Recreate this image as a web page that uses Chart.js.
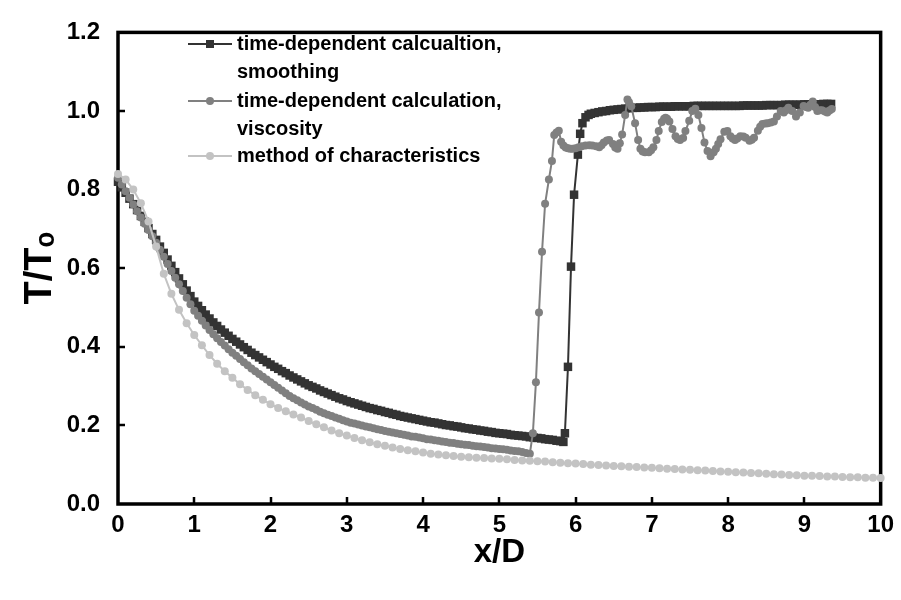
<!DOCTYPE html>
<html><head><meta charset="utf-8">
<script src="https://cdn.jsdelivr.net/npm/chart.js@4"></script>
<style>html,body{margin:0;padding:0;background:#fff}#wrap{width:901px;height:600px}</style>
</head><body><div id="wrap"><canvas id="c" width="901" height="600"></canvas></div>
<script>
// ---- axis ticks ----
const xTicks = [0,1,2,3,4,5,6,7,8,9,10];
const yTicks = [0,0.2,0.4,0.6,0.8,1.0,1.2];
const xTitle = 'x/D';
const yTitle = 'T/T\u2092';
// ---- series names (legend lines) ----
const seriesNames = [
  ['time-dependent calcualtion,', 'smoothing'],
  ['time-dependent calculation,', 'viscosity'],
  ['method of characteristics']
];
// ---- series values: [x/D, T/To] ----
const smoothing = [
[0,.820],[.05,.806],[.1,.792],[.15,.777],[.2,.763],[.25,.748],[.3,.733],[.35,.718],[.4,.702],[.45,.687],
[.5,.672],[.55,.655],[.6,.639],[.65,.622],[.7,.606],[.75,.590],[.8,.574],[.85,.559],[.9,.543],[.95,.529],
[1,.515],[1.05,.504],[1.1,.493],[1.15,.482],[1.2,.472],[1.25,.462],[1.3,.453],[1.35,.444],[1.4,.436],[1.45,.428],
[1.5,.420],[1.55,.413],[1.6,.406],[1.65,.399],[1.7,.392],[1.75,.385],[1.8,.379],[1.85,.373],[1.9,.367],[1.95,.361],
[2,.355],[2.05,.349],[2.1,.344],[2.15,.338],[2.2,.333],[2.25,.327],[2.3,.322],[2.35,.317],[2.4,.312],[2.45,.307],
[2.5,.302],[2.55,.298],[2.6,.294],[2.65,.289],[2.7,.285],[2.75,.281],[2.8,.277],[2.85,.273],[2.9,.269],[2.95,.266],
[3,.262],[3.05,.259],[3.1,.256],[3.15,.253],[3.2,.250],[3.25,.247],[3.3,.244],[3.35,.242],[3.4,.239],[3.45,.237],
[3.5,.234],[3.55,.232],[3.6,.229],[3.65,.227],[3.7,.224],[3.75,.222],[3.8,.220],[3.85,.218],[3.9,.216],[3.95,.214],
[4,.212],[4.05,.210],[4.1,.208],[4.15,.207],[4.2,.205],[4.25,.203],[4.3,.201],[4.35,.200],[4.4,.198],[4.45,.197],
[4.5,.195],[4.55,.193],[4.6,.192],[4.65,.190],[4.7,.189],[4.75,.187],[4.8,.186],[4.85,.184],[4.9,.183],[4.95,.181],
[5,.180],[5.05,.179],[5.1,.178],[5.15,.176],[5.2,.175],[5.25,.174],[5.3,.173],[5.35,.172],[5.4,.170],[5.45,.169],
[5.5,.168],[5.55,.167],[5.6,.165],[5.65,.164],[5.7,.163],[5.75,.161],[5.8,.160],[5.84,.158],
[5.86,.180],[5.90,.349],[5.94,.604],[5.98,.787],[6.03,.889],[6.06,.942],[6.09,.969],[6.13,.984],[6.17,.990],[6.2,.993],
[6.25,.995],[6.3,.997],[6.35,.999],[6.4,1.000],[6.45,1.002],[6.5,1.003],[6.55,1.004],[6.6,1.005],[6.65,1.006],[6.7,1.007],
[6.75,1.008],[6.8,1.008],[6.85,1.009],[6.9,1.009],[6.95,1.010],[7,1.010],[7.05,1.010],[7.1,1.011],[7.15,1.011],[7.2,1.011],
[7.25,1.011],[7.3,1.012],[7.35,1.012],[7.4,1.012],[7.45,1.012],[7.5,1.012],[7.55,1.013],[7.6,1.013],[7.65,1.013],[7.7,1.013],
[7.75,1.013],[7.8,1.013],[7.85,1.013],[7.9,1.013],[7.95,1.013],[8,1.013],[8.05,1.013],[8.1,1.013],[8.15,1.013],[8.2,1.014],
[8.25,1.014],[8.3,1.014],[8.35,1.014],[8.4,1.014],[8.45,1.014],[8.5,1.015],[8.55,1.015],[8.6,1.015],[8.65,1.015],[8.7,1.015],
[8.75,1.016],[8.8,1.016],[8.85,1.016],[8.9,1.016],[8.95,1.016],[9,1.017],[9.05,1.017],[9.1,1.017],[9.15,1.017],[9.2,1.017],
[9.25,1.018],[9.3,1.018],[9.35,1.018]
];
const viscosity = [
[0,.830],[.05,.813],[.1,.796],[.15,.779],[.2,.762],[.25,.745],[.3,.729],[.35,.713],[.4,.697],[.45,.681],
[.5,.665],[.55,.647],[.6,.629],[.65,.611],[.7,.593],[.75,.576],[.8,.559],[.85,.542],[.9,.525],[.95,.508],
[1,.492],[1.05,.479],[1.1,.466],[1.15,.454],[1.2,.443],[1.25,.432],[1.3,.422],[1.35,.412],[1.4,.403],[1.45,.394],
[1.5,.385],[1.55,.377],[1.6,.369],[1.65,.361],[1.7,.353],[1.75,.345],[1.8,.338],[1.85,.331],[1.9,.324],[1.95,.317],
[2,.310],[2.05,.303],[2.1,.296],[2.15,.289],[2.2,.282],[2.25,.275],[2.3,.269],[2.35,.264],[2.4,.258],[2.45,.253],
[2.5,.248],[2.55,.244],[2.6,.240],[2.65,.235],[2.7,.231],[2.75,.227],[2.8,.224],[2.85,.220],[2.9,.217],[2.95,.213],
[3,.210],[3.05,.207],[3.1,.205],[3.15,.202],[3.2,.200],[3.25,.197],[3.3,.195],[3.35,.193],[3.4,.190],[3.45,.188],
[3.5,.186],[3.55,.184],[3.6,.182],[3.65,.180],[3.7,.178],[3.75,.176],[3.8,.174],[3.85,.172],[3.9,.171],[3.95,.169],
[4,.167],[4.05,.165],[4.1,.164],[4.15,.162],[4.2,.161],[4.25,.159],[4.3,.158],[4.35,.156],[4.4,.155],[4.45,.153],
[4.5,.152],[4.55,.151],[4.6,.150],[4.65,.148],[4.7,.147],[4.75,.146],[4.8,.145],[4.85,.144],[4.9,.142],[4.95,.141],
[5,.140],[5.05,.139],[5.1,.138],[5.15,.136],[5.2,.135],[5.25,.134],[5.3,.132],[5.35,.130],[5.4,.128],
[5.44,.180],[5.48,.310],[5.52,.487],[5.56,.642],[5.6,.764],[5.65,.826],[5.69,.873],[5.72,.939],[5.75,.945],[5.78,.950],
[5.81,.922],[5.84,.912],[5.87,.907],[5.9,.905],[5.93,.904],[5.96,.904],[6,.905],[6.04,.908],[6.08,.910],[6.13,.912],
[6.18,.913],[6.22,.912],[6.27,.910],[6.31,.908],[6.34,.913],[6.37,.920],[6.41,.925],[6.44,.926],[6.49,.916],[6.52,.907],
[6.55,.904],[6.58,.918],[6.61,.940],[6.65,.990],[6.68,1.029],[6.7,1.022],[6.73,1.012],[6.78,.969],[6.82,.926],[6.85,.904],
[6.88,.897],[6.91,.895],[6.96,.895],[6.99,.900],[7.02,.908],[7.06,.926],[7.09,.949],[7.13,.972],[7.16,.980],[7.18,.983],
[7.2,.980],[7.23,.973],[7.27,.954],[7.31,.936],[7.34,.929],[7.37,.926],[7.41,.931],[7.44,.949],[7.49,.975],[7.53,1.000],
[7.57,1.006],[7.61,.990],[7.65,.957],[7.69,.920],[7.73,.898],[7.77,.885],[7.81,.895],[7.84,.904],[7.87,.916],[7.9,.928],
[7.95,.947],[7.99,.949],[8.03,.936],[8.06,.930],[8.09,.926],[8.12,.930],[8.16,.936],[8.2,.935],[8.23,.932],[8.28,.924],
[8.31,.927],[8.34,.932],[8.39,.950],[8.42,.960],[8.45,.967],[8.49,.968],[8.52,.969],[8.56,.971],[8.6,.973],[8.64,.986],
[8.69,1.000],[8.73,.996],[8.76,1.002],[8.79,1.008],[8.84,1.000],[8.89,.986],[8.94,.996],[8.99,1.013],[9.02,1.010],[9.05,1.008],
[9.08,1.016],[9.11,1.024],[9.14,1.010],[9.17,1.000],[9.2,1.002],[9.23,1.002],[9.27,.999],[9.3,.996],[9.33,1.001],[9.36,1.005]
];
const characteristics = [
[0,.840],[.1,.826],[.2,.800],[.3,.765],[.4,.719],[.5,.655],[.6,.586],[.7,.535],[.8,.494],[.9,.460],
[1,.430],[1.1,.404],[1.2,.379],[1.3,.357],[1.4,.338],[1.5,.321],[1.6,.305],[1.7,.290],[1.8,.277],[1.9,.265],
[2,.254],[2.1,.244],[2.2,.236],[2.3,.228],[2.4,.220],[2.5,.211],[2.6,.203],[2.7,.195],[2.8,.187],[2.9,.180],
[3,.174],[3.1,.168],[3.2,.162],[3.3,.157],[3.4,.152],[3.5,.148],[3.6,.144],[3.7,.140],[3.8,.137],[3.9,.134],
[4,.131],[4.1,.128],[4.2,.126],[4.3,.124],[4.4,.122],[4.5,.120],[4.6,.119],[4.7,.118],[4.8,.117],[4.9,.116],
[5,.115],[5.1,.114],[5.2,.112],[5.3,.111],[5.4,.110],[5.5,.109],[5.6,.108],[5.7,.106],[5.8,.105],[5.9,.104],
[6,.103],[6.1,.102],[6.2,.100],[6.3,.099],[6.4,.098],[6.5,.097],[6.6,.096],[6.7,.095],[6.8,.094],[6.9,.093],
[7,.092],[7.1,.091],[7.2,.090],[7.3,.089],[7.4,.088],[7.5,.087],[7.6,.086],[7.7,.085],[7.8,.084],[7.9,.083],
[8,.082],[8.1,.081],[8.2,.080],[8.3,.079],[8.4,.078],[8.5,.077],[8.6,.076],[8.7,.075],[8.8,.074],[8.9,.073],
[9,.072],[9.1,.072],[9.2,.071],[9.3,.070],[9.4,.070],[9.5,.069],[9.6,.068],[9.7,.068],[9.8,.067],[9.9,.067],[10,.066]
];

const COLORS = ['#333333', '#808080', '#c3c3c3'];
const FONT = '"Liberation Sans", Arial, Helvetica, sans-serif';
const toPts = arr => arr.map(p => ({x: p[0], y: p[1]}));

const framePlugin = {
  id: 'frame',
  beforeDatasetsDraw(chart) {
    const {ctx, chartArea: {left, right, top, bottom}, scales: {x, y}} = chart;
    ctx.save();
    ctx.strokeStyle = '#000';
    ctx.lineWidth = 2.5;
    ctx.beginPath();
    yTicks.forEach(v => {
      if (v > 0 && v < 1.2) { const py = Math.round(y.getPixelForValue(v)); ctx.moveTo(left, py); ctx.lineTo(left + 7, py); }
    });
    xTicks.forEach(v => {
      if (v > 0 && v < 10) { const px = Math.round(x.getPixelForValue(v)); ctx.moveTo(px, bottom); ctx.lineTo(px, bottom - 7); }
    });
    ctx.stroke();
    ctx.lineWidth = 3.5;
    ctx.strokeRect(left, top, right - left, bottom - top);
    ctx.restore();
  }
};

const legendPlugin = {
  id: 'innerLegend',
  afterDraw(chart) {
    const ctx = chart.ctx;
    const rows = [44, 101, 156];
    ctx.save();
    ctx.font = 'bold 20px ' + FONT;
    ctx.textBaseline = 'middle';
    ctx.textAlign = 'left';
    seriesNames.forEach((lines, i) => {
      const yy = rows[i];
      ctx.strokeStyle = COLORS[i];
      ctx.lineWidth = 2;
      ctx.beginPath(); ctx.moveTo(188, yy); ctx.lineTo(232, yy); ctx.stroke();
      ctx.fillStyle = COLORS[i];
      if (i === 0) { ctx.fillRect(206, yy - 4, 8, 8); }
      else { ctx.beginPath(); ctx.arc(210, yy, 4, 0, Math.PI * 2); ctx.fill(); }
      ctx.fillStyle = '#000';
      lines.forEach((t, k) => ctx.fillText(t, 237, yy + k * 28));
    });
    ctx.restore();
  }
};

new Chart(document.getElementById('c'), {
  type: 'line',
  data: {
    datasets: [
      { label: seriesNames[0].join(' '), data: toPts(smoothing), borderColor: COLORS[0], backgroundColor: COLORS[0],
        borderWidth: 2, pointStyle: 'rect', pointRadius: 6, pointBorderWidth: 0, clip: false, order: 2 },
      { label: seriesNames[1].join(' '), data: toPts(viscosity), borderColor: COLORS[1], backgroundColor: COLORS[1],
        borderWidth: 2, pointStyle: 'circle', pointRadius: 4, pointBorderWidth: 0, clip: false, order: 1 },
      { label: seriesNames[2][0], data: toPts(characteristics), borderColor: COLORS[2], backgroundColor: COLORS[2],
        borderWidth: 2, pointStyle: 'circle', pointRadius: 4, pointBorderWidth: 0, clip: false, order: 0 }
    ]
  },
  options: {
    responsive: false,
    animation: false,
    devicePixelRatio: 1,
    layout: { padding: { top: 17, right: 20, left: 0, bottom: 0 } },
    plugins: { legend: { display: false }, tooltip: { enabled: false } },
    elements: { line: { tension: 0 } },
    scales: {
      x: {
        type: 'linear', min: 0, max: 10,
        afterBuildTicks: s => { s.ticks = xTicks.map(v => ({value: v})); },
        afterFit: s => { s.height = 96; },
        grid: { display: false, drawTicks: false },
        border: { display: false },
        ticks: { color: '#000', padding: 7, font: { family: FONT, size: 24, weight: 'bold' }, maxRotation: 0 },
        title: { display: true, text: xTitle, color: '#000', font: { family: FONT, size: 33, weight: 'bold' }, padding: { top: 0, bottom: 27 } }
      },
      y: {
        type: 'linear', min: 0, max: 1.2,
        afterBuildTicks: s => { s.ticks = yTicks.map(v => ({value: v})); },
        afterFit: s => { s.width = 118; },
        grid: { display: false, drawTicks: false },
        border: { display: false },
        ticks: { color: '#000', padding: 18, font: { family: FONT, size: 24, weight: 'bold' }, callback: v => Number(v).toFixed(1) },
        title: { display: true, text: yTitle, color: '#000', font: { family: FONT, size: 38, weight: 'bold' }, padding: { top: 18, bottom: 0 } }
      }
    }
  },
  plugins: [framePlugin, legendPlugin]
});
</script>
</body></html>
